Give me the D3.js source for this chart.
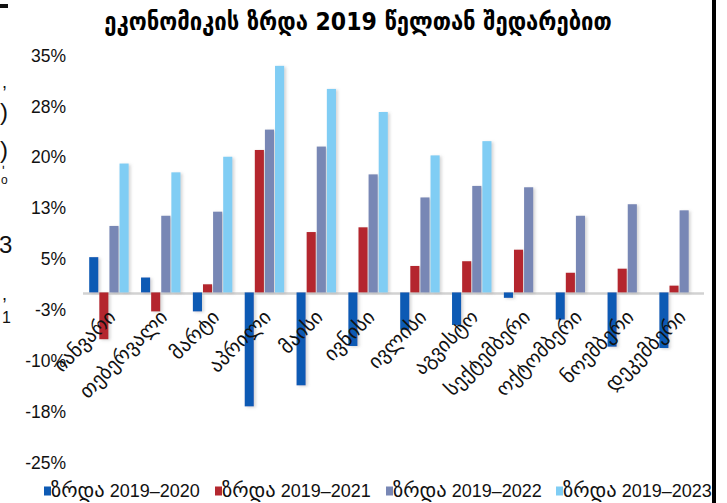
<!DOCTYPE html>
<html><head><meta charset="utf-8">
<script src="https://cdn.jsdelivr.net/npm/d3@7"></script>
<style>
html,body{margin:0;padding:0;background:#fff;}
svg{display:block;}
</style></head>
<body>
<svg id="chart" width="727" height="503"></svg>
<script>
const months = ["იანვარი","თებერვალი","მარტი","აპრილი","მაისი","ივნისი","ივლისი","აგვისტო","სექტემბერი","ოქტომბერი","ნოემბერი","დეკემბერი"];
const seriesWord = "ზრდა";
const seriesYears = ["2019–2020","2019–2021","2019–2022","2019–2023"];
const growth2020 = [5.2, 2.2, -2.8, -16.8, -13.7, -7.9, -5.5, -4.8, -0.8, -4.0, -8.0, -8.2];
const growth2021 = [-6.9, -2.8, 1.2, 21.0, 8.9, 9.6, 3.9, 4.6, 6.3, 2.9, 3.5, 1.0];
const growth2022 = [9.8, 11.3, 11.9, 24.0, 21.5, 17.4, 14.0, 15.7, 15.5, 11.3, 13.0, 12.1];
const growth2023 = [19.0, 17.7, 20.0, 33.4, 30.0, 26.6, 20.2, 22.3, null, null, null, null];
const tickValues = [35, 27.5, 20, 12.5, 5, -2.5, -10, -17.5, -25];
const tickLabels = ["35%","28%","20%","13%","5%","-3%","-10%","-18%","-25%"];
const colors = ["#0d5ab4","#b4282f","#7887b5","#80cdf4"];
const title = "ეკონომიკის ზრდა 2019 წელთან შედარებით";

const allSeries = [growth2020, growth2021, growth2022, growth2023];
const svg = d3.select("#chart");
const defs = svg.append("defs");
const f = defs.append("filter").attr("id","sh").attr("x","-50%").attr("y","-20%").attr("width","200%").attr("height","140%");
f.append("feDropShadow").attr("dx",2).attr("dy",1).attr("stdDeviation",1.5).attr("flood-color","#888").attr("flood-opacity",0.35);

const y = d3.scaleLinear().domain([-25, 35]).range([462, 55]);
const x = d3.scaleBand().domain(months).range([83, 705]).paddingInner(0.22).paddingOuter(0.11);
const xs = d3.scaleBand().domain(d3.range(4)).range([0, x.bandwidth()]).padding(0);

const font = "'Liberation Sans','DejaVu Sans',Arial,sans-serif";

// title
svg.append("text").attr("x", 358).attr("y", 30).attr("text-anchor","middle")
  .style("font-family","'DejaVu Sans Condensed','DejaVu Sans',sans-serif").style("font-weight","bold")
  .style("font-size","24.5px").attr("fill","#000").text(title);

// y axis (labels only)
const yAxis = d3.axisLeft(y).tickValues(tickValues).tickFormat((d,i)=>tickLabels[i]).tickSize(0).tickPadding(0);
const ga = svg.append("g").attr("transform","translate(66,0)").call(yAxis);
ga.select(".domain").remove();
ga.selectAll("text").style("font-family",font).style("font-size","17.5px").attr("fill","#111").attr("dy","0.35em");

// baseline
svg.append("line").attr("x1",83).attr("x2",704).attr("y1",y(0)+1).attr("y2",y(0)+1)
  .attr("stroke","#d2d2d2").attr("stroke-width",2.5);

// bars
const data = [];
months.forEach((m,i)=>allSeries.forEach((s,k)=>{ if(s[i]!==null) data.push({m,k,v:s[i]}); }));
svg.append("g").attr("filter","url(#sh)").selectAll("rect").data(data).join("rect")
  .attr("x", d=>x(d.m)+xs(d.k)+0.5)
  .attr("width", xs.bandwidth()-1)
  .attr("y", d=>Math.min(y(d.v), y(0)))
  .attr("height", d=>Math.abs(y(d.v)-y(0)))
  .attr("fill", d=>colors[d.k]);

// x labels
svg.append("g").selectAll("text").data(months).join("text")
  .attr("transform", d=>`translate(${x(d)+x.bandwidth()/2-2},${y(0)+16}) rotate(-45)`)
  .attr("text-anchor","end").attr("dy","0.7em")
  .style("font-family",font).style("font-size","20px").attr("fill","#111")
  .text(d=>d);

// legend
const legX = [44, 215, 386, 556];
const lg = svg.append("g").selectAll("g").data(seriesYears).join("g")
  .attr("transform",(d,i)=>`translate(${legX[i]},491)`);
lg.append("rect").attr("x",0).attr("y",-4.5).attr("width",7).attr("height",9).attr("fill",(d,i)=>colors[i]);
const lt = lg.append("text").attr("x",7).attr("y",0).attr("dy","0.35em")
  .style("font-family",font).style("font-size","18px").attr("fill","#111");
lt.append("tspan").style("font-size","20.5px").text(seriesWord);
lt.append("tspan").text(d=>" "+d);

// cropped fragments / borders from the source image
svg.append("rect").attr("x",0).attr("y",4).attr("width",8).attr("height",4).attr("fill","#111");
svg.append("rect").attr("x",712).attr("y",0).attr("width",4).attr("height",503).attr("fill","#000");
const frag = [[",",2,88,18],[")",0,120,24],[")",0,158,24],["3",-1,253,24],[",",2,300,18],["1",2,323,16]];
const fg = svg.append("g").style("font-family",font).attr("fill","#111");
fg.selectAll("text").data(frag).join("text")
  .attr("x",d=>d[1]).attr("y",d=>d[2]).style("font-size",d=>d[3]+"px").text(d=>d[0]);
const pct = fg.append("text").attr("x",2).attr("y",176).style("font-size","14px");
pct.append("tspan").text("ʹ");
pct.append("tspan").attr("x",1).attr("dy",8).style("font-size","12px").text("o");
</script>
</body></html>
